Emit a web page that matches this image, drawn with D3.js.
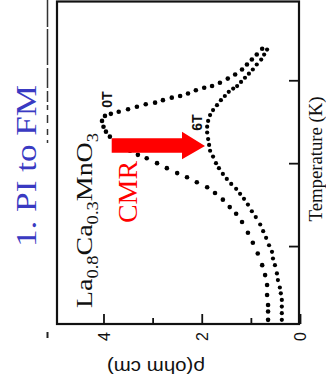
<!DOCTYPE html>
<html>
<head>
<meta charset="utf-8">
<script src="https://cdn.jsdelivr.net/npm/d3@7"></script>
<style>
  body { margin: 0; background: #fff; }
  svg { display: block; }
</style>
</head>
<body>
<svg id="chart" width="326" height="389"></svg>
<script>
// rho(T) for La0.8Ca0.3MnO3, zero field and 6 T (figure is shown rotated)
const t0 = [11, 21, 29, 41, 53, 65, 77, 91, 104, 116, 129, 139, 147, 156, 164, 171, 177, 183, 188, 194,
  200, 206, 210, 215, 220, 226, 232, 238, 244, 251, 257, 259.5, 262, 265, 268, 271, 273, 276, 279, 281,
  284, 288, 291, 293, 297, 302, 307, 313, 319, 325, 331, 338];
const rho0 = [0.65, 0.65, 0.65, 0.67, 0.67, 0.71, 0.77, 0.86, 0.96, 1.06, 1.18, 1.30, 1.43, 1.57, 1.73, 1.89, 2.10, 2.30, 2.50, 2.71,
  2.91, 3.12, 3.30, 3.46, 3.62, 3.77, 3.87, 3.95, 4.00, 4.03, 3.97, 3.85, 3.69, 3.50, 3.32, 3.14, 2.95, 2.79, 2.61, 2.44,
  2.28, 2.12, 1.95, 1.79, 1.63, 1.47, 1.32, 1.18, 1.08, 0.98, 0.88, 0.77];

const t6 = [11, 19, 27, 35, 43, 50, 59, 67, 77, 85, 93, 101, 110, 118, 126, 135, 142, 150, 157, 163,
  169, 175, 181, 187, 194, 200, 208, 215, 222, 229, 237, 244, 251, 258, 264, 270, 276, 281, 286, 290,
  293, 298, 303, 308, 313, 319, 325, 331, 337];
const rho6 = [0.37, 0.37, 0.37, 0.37, 0.39, 0.41, 0.45, 0.47, 0.51, 0.55, 0.57, 0.63, 0.69, 0.75, 0.81, 0.90, 0.98, 1.06, 1.14, 1.22,
  1.30, 1.40, 1.49, 1.57, 1.65, 1.71, 1.77, 1.83, 1.85, 1.87, 1.89, 1.89, 1.87, 1.83, 1.77, 1.69, 1.61, 1.53, 1.45, 1.36,
  1.28, 1.20, 1.12, 1.04, 0.96, 0.88, 0.79, 0.73, 0.67];

const rhoTicks = [0, 2, 4];
const rhoMinor = [1, 3];
const tempTicks = [100, 200, 300];

const svg = d3.select("#chart");

// rho runs right-to-left, temperature bottom-to-top (rotated plot)
const x = d3.scaleLinear().domain([0, 4.93]).range([300, 57.8]);
const y = d3.scaleLinear().domain([6, 395]).range([324, 1.5]);

// stray marks left of the frame
svg.append("line")
  .attr("x1", 47.5).attr("x2", 47.5).attr("y1", 0).attr("y2", 143)
  .attr("stroke", "#333").attr("stroke-width", 1.5)
  .attr("stroke-dasharray", "27,2,36,3,20,3,11,3,5,5,8,6,6,5,4");
svg.append("line")
  .attr("x1", 47.5).attr("x2", 47.5).attr("y1", 332).attr("y2", 338)
  .attr("stroke", "#222").attr("stroke-width", 2);

// frame
svg.append("rect")
  .attr("x", 57).attr("y", 1.5)
  .attr("width", 299 - 57).attr("height", 324 - 1.5)
  .attr("fill", "none").attr("stroke", "#111").attr("stroke-width", 2.2);

// rho axis (bottom)
const rhoAxis = svg.append("g")
  .attr("transform", "translate(0,324)")
  .call(d3.axisBottom(x).tickValues(rhoTicks).tickSize(-10).tickPadding(0).tickFormat(d3.format("d")));
rhoAxis.select(".domain").remove();
rhoAxis.selectAll("line").attr("stroke", "#111").attr("stroke-width", 1.8);
rhoAxis.selectAll("text")
  .attr("y", null).attr("dy", "0.36em")
  .attr("transform", "translate(0,8) rotate(-90)")
  .attr("text-anchor", "end")
  .style("font-family", "'Liberation Sans', Arial, sans-serif")
  .style("font-size", "16px")
  .attr("fill", "#111");

svg.append("g")
  .attr("transform", "translate(0,324)")
  .call(d3.axisBottom(x).tickValues(rhoMinor).tickSize(-6).tickFormat(""))
  .call(g => g.select(".domain").remove())
  .selectAll("line").attr("stroke", "#111").attr("stroke-width", 1.8);

// temperature axis (right)
svg.append("g")
  .attr("transform", "translate(299,0)")
  .call(d3.axisRight(y).tickValues(tempTicks).tickSize(-10).tickFormat(""))
  .call(g => g.select(".domain").remove())
  .selectAll("line").attr("stroke", "#111").attr("stroke-width", 1.8);

// data dots
const d0 = t0.map((t, i) => ({ t: t, r: rho0[i] }));
const d6 = t6.map((t, i) => ({ t: t, r: rho6[i] }));

svg.append("g").selectAll("circle")
  .data(d0).enter().append("circle")
  .attr("cx", d => x(d.r)).attr("cy", d => y(d.t))
  .attr("r", 2.3).attr("fill", "#000");

svg.append("g").selectAll("circle")
  .data(d6).enter().append("circle")
  .attr("cx", d => x(d.r)).attr("cy", d => y(d.t))
  .attr("r", 2.1).attr("fill", "#000");

// curve labels
function rotText(px, py, str, size, weight) {
  return svg.append("text")
    .attr("transform", `translate(${px},${py}) rotate(-90)`)
    .attr("text-anchor", "middle")
    .style("font-family", "'Liberation Sans', Arial, sans-serif")
    .style("font-size", size + "px")
    .style("font-weight", weight)
    .attr("fill", "#111")
    .text(str);
}
rotText(112, 99.5, "0T", 14, "bold");
rotText(201.5, 122.5, "6T", 14, "bold");

// compound name with subscripts
const comp = svg.append("text")
  .attr("transform", "translate(92,308) rotate(-90)")
  .attr("text-anchor", "start")
  .style("font-family", "'Liberation Serif', 'Times New Roman', serif")
  .style("font-size", "24px")
  .attr("fill", "#111")
  .attr("textLength", 175).attr("lengthAdjust", "spacingAndGlyphs");
[["La", false], ["0.8", true], ["Ca", false], ["0.3", true], ["MnO", false], ["3", true]].forEach(p => {
  const s = comp.append("tspan").text(p[0]);
  if (p[1]) s.style("font-size", "16px").attr("dy", 6);
  else s.attr("dy", comp.selectAll("tspan").size() > 1 ? -6 : 0);
});

// axis titles
svg.append("text")
  .attr("transform", "translate(156,361) rotate(180)")
  .attr("text-anchor", "middle")
  .style("font-family", "'Liberation Sans', Arial, sans-serif")
  .style("font-size", "19px")
  .attr("fill", "#111")
  .attr("textLength", 98).attr("lengthAdjust", "spacingAndGlyphs")
  .text("\u03C1(ohm cm)");

svg.append("text")
  .attr("transform", "translate(321.5,159) rotate(-90)")
  .attr("text-anchor", "middle")
  .style("font-family", "'Liberation Serif', 'Times New Roman', serif")
  .style("font-size", "18px")
  .attr("fill", "#111")
  .attr("textLength", 125).attr("lengthAdjust", "spacingAndGlyphs")
  .text("Temperature (K)");

// slide annotations
svg.append("text")
  .attr("transform", "translate(36,166) rotate(-90)")
  .attr("text-anchor", "middle")
  .style("font-family", "'Liberation Serif', 'Times New Roman', serif")
  .style("font-size", "30px")
  .attr("fill", "#3a3ac2")
  .attr("textLength", 162).attr("lengthAdjust", "spacingAndGlyphs")
  .text("1. PI to FM");

svg.append("text")
  .attr("transform", "translate(137,192) rotate(-90)")
  .attr("text-anchor", "middle")
  .style("font-family", "'Liberation Serif', 'Times New Roman', serif")
  .style("font-size", "28px")
  .attr("fill", "#ff0000")
  .attr("textLength", 62).attr("lengthAdjust", "spacingAndGlyphs")
  .text("CMR");

// red arrow from the 0T peak to the 6T curve
svg.append("path")
  .attr("d", "M111.7,138.3 L182,138.3 L182,131.7 L205,146 L182,159.3 L182,152.7 L111.7,152.7 Z")
  .attr("fill", "#ff0000");
</script>
</body>
</html>
